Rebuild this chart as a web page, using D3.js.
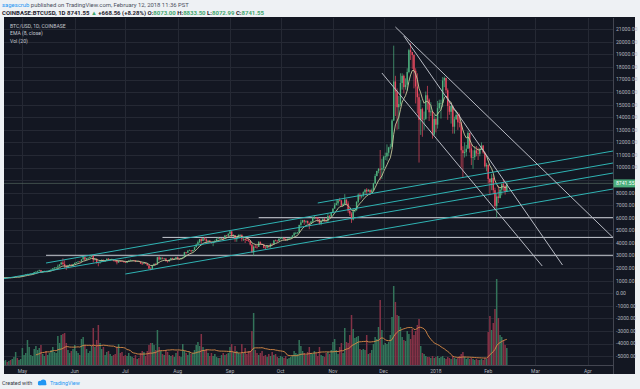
<!DOCTYPE html>
<html>
<head>
<meta charset="utf-8">
<script src="https://cdnjs.cloudflare.com/ajax/libs/d3/7.8.5/d3.min.js"></script>
<style>
  body { margin: 0; background: #eef1f4; }
  svg text { font-family: Roboto, "Liberation Sans", sans-serif; }
</style>
</head>
<body>
<svg id="chart" width="640" height="389"></svg>
<script>
// daily BTC/USD candles off coinbase, starting 20 Apr 2017 (one value per day)
var startDay = "2017-04-20";
var firstOpen = 1215;
var closes = [
  // apr
  1235, 1250, 1245, 1250, 1245, 1265, 1285, 1340, 1320, 1325, 1350,
  // may
  1420, 1455, 1495, 1525, 1530, 1560, 1570, 1690, 1715, 1780, 1840, 1690, 1760, 1780, 1720, 1745, 1820, 1890, 1985, 2045,
  2055, 2140, 2290, 2450, 2330, 2160, 2080, 2210, 2280, 2200, 2330,
  // jun
  2420, 2480, 2530, 2520, 2690, 2880, 2680, 2800, 2820, 2900, 2990, 2650, 2720, 2480, 2450, 2500, 2660, 2530, 2600, 2750,
  2680, 2710, 2720, 2600, 2580, 2450, 2580, 2570, 2550, 2480,
  // jul
  2430, 2520, 2600, 2610, 2620, 2610, 2520, 2560, 2510, 2370, 2350, 2400, 2360, 2220, 1960, 1930, 2230, 2330, 2290, 2870,
  2690, 2830, 2760, 2770, 2580, 2540, 2680, 2810, 2730, 2760, 2870,
  // aug
  2740, 2710, 2810, 2860, 3270, 3230, 3400, 3420, 3350, 3440, 3670, 3880, 4060, 4320, 4160, 4380, 4290, 4150, 4200, 4090,
  4000, 4100, 4150, 4330, 4370, 4350, 4390, 4380, 4600, 4580, 4740,
  // sep
  4920, 4580, 4630, 4300, 4440, 4640, 4650, 4330, 4330, 4240, 4200, 4160, 3880, 3250, 3710, 3700, 3690, 4100, 3910, 3880,
  3620, 3610, 3790, 3660, 3930, 3890, 4210, 4190, 4170, 4340,
  // oct
  4400, 4410, 4320, 4220, 4330, 4370, 4440, 4610, 4780, 4780, 4830, 5440, 5640, 5820, 5700, 5760, 5600, 5580, 5710, 6010,
  6010, 5980, 5900, 5520, 5750, 5900, 5780, 5750, 6150, 6130, 6450,
  // nov
  6740, 7030, 7160, 7400, 7380, 6960, 7100, 7460, 7140, 6570, 6340, 5860, 6520, 6600, 7280, 7850, 7700, 7780, 8040, 8240,
  8100, 8230, 8010, 8200, 8750, 9330, 9730, 9900, 9840, 9950,
  // dec
  10860, 10890, 11180, 11600, 11660, 13750, 16850, 16050, 14800, 15050, 16730, 17300, 16400, 16590, 17600, 19340, 19190, 18950, 17700, 16450,
  15600, 13800, 14650, 13830, 13880, 15750, 15400, 14400, 14470, 12630, 13860,
  // jan
  13410, 14730, 15130, 15140, 16930, 17130, 16150, 14900, 14440, 14900, 13250, 13840, 14190, 13600, 13580, 11380, 11150, 11250, 11500, 12760,
  11530, 10780, 10830, 11370, 11130, 11100, 11440, 11750, 11200, 10100, 10220,
  // feb
  9100, 8830, 9170, 8200, 6940, 7700, 7580, 8240, 8680, 8560, 8072.99, 8741.55
];
var highs = [
  1240, 1255, 1260, 1255, 1255, 1268, 1295, 1345, 1350, 1330, 1355,
  1425, 1470, 1500, 1560, 1570, 1580, 1600, 1700, 1750, 1800, 1880, 1860, 1770, 1800, 1790, 1770, 1840, 1900, 2000, 2070,
  2080, 2290, 2300, 2520, 2780, 2620, 2250, 2260, 2320, 2300, 2340,
  2450, 2490, 2560, 2570, 2720, 2920, 2900, 2820, 2860, 2920, 3020, 3000, 2780, 2800, 2500, 2540, 2690, 2680, 2610, 2770,
  2800, 2730, 2760, 2730, 2640, 2620, 2600, 2630, 2600, 2560,
  2510, 2540, 2620, 2690, 2640, 2640, 2620, 2570, 2580, 2520, 2420, 2430, 2440, 2380, 2230, 2060, 2240, 2400, 2420, 2900,
  2960, 2880, 2850, 2800, 2790, 2620, 2700, 2830, 2830, 2790, 2890,
  2920, 2760, 2830, 2890, 3300, 3290, 3420, 3480, 3430, 3450, 3700, 3950, 4200, 4330, 4400, 4400, 4480, 4370, 4200, 4200,
  4110, 4150, 4250, 4370, 4470, 4380, 4400, 4400, 4640, 4640, 4760,
  4980, 4960, 4700, 4630, 4480, 4690, 4700, 4680, 4380, 4330, 4360, 4350, 4180, 3920, 3810, 3870, 3800, 4140, 4110, 3950,
  3900, 3760, 3820, 3800, 3970, 3990, 4240, 4270, 4230, 4380,
  4470, 4480, 4440, 4380, 4370, 4420, 4470, 4610, 4880, 4890, 4880, 5450, 5850, 5840, 5850, 5800, 5780, 5620, 5740, 6080,
  6200, 6080, 6060, 5910, 5750, 5980, 6000, 5860, 6340, 6220, 6470,
  6760, 7200, 7450, 7480, 7600, 7420, 7210, 7890, 7450, 7320, 6810, 6450, 6770, 6750, 7320, 7950, 8000, 7850, 8110, 8300,
  8370, 8300, 8250, 8330, 8790, 9500, 9750, 9960, 11400, 10700,
  10940, 11190, 11850, 11650, 11900, 13850, 19700, 17300, 16300, 15700, 17500, 17500, 17400, 17100, 17900, 19450, 19890, 19200, 19000, 17900,
  17500, 15900, 15400, 14770, 14460, 16050, 16500, 15500, 15200, 14500, 14200,
  14000, 15300, 15400, 15400, 17200, 17250, 17150, 16300, 15300, 14950, 14950, 14050, 14550, 14400, 14300, 13600, 11700, 12000, 11800, 12900,
  12770, 11900, 11380, 11700, 11720, 11600, 11550, 12000, 11800, 11250, 10380,
  10250, 9150, 9500, 9390, 8400, 7900, 8560, 8360, 8740, 9080, 8570, 8833.50
];
var lows = [
  1205, 1225, 1220, 1230, 1230, 1240, 1260, 1280, 1300, 1300, 1310,
  1345, 1410, 1440, 1470, 1480, 1520, 1540, 1560, 1650, 1700, 1760, 1670, 1640, 1720, 1690, 1690, 1720, 1810, 1880, 1950,
  1980, 2020, 2130, 2290, 2250, 2000, 1850, 2000, 2150, 2150, 2180,
  2310, 2380, 2440, 2480, 2500, 2690, 2600, 2620, 2750, 2790, 2880, 2450, 2600, 2350, 2150, 2350, 2480, 2500, 2500, 2590,
  2620, 2630, 2670, 2540, 2480, 2300, 2420, 2500, 2520, 2450,
  2410, 2400, 2500, 2580, 2570, 2580, 2480, 2490, 2500, 2330, 2260, 2310, 2330, 2200, 1940, 1830, 1930, 2200, 2270, 2280,
  2600, 2680, 2700, 2710, 2510, 2440, 2510, 2670, 2690, 2650, 2720,
  2680, 2660, 2710, 2790, 2860, 3150, 3210, 3380, 3250, 3330, 3420, 3650, 3850, 3980, 3900, 4150, 4200, 4000, 3990, 4050,
  3950, 3750, 4080, 4120, 4310, 4300, 4340, 4230, 4350, 4530, 4570,
  4680, 4460, 4480, 4100, 4100, 4440, 4590, 4130, 4170, 4000, 4160, 4100, 3800, 3220, 2980, 3600, 3550, 3690, 3880, 3840,
  3580, 3520, 3580, 3640, 3650, 3870, 3880, 4140, 4100, 4160,
  4300, 4340, 4200, 4160, 4180, 4300, 4340, 4430, 4560, 4700, 4740, 4810, 5250, 5600, 5450, 5560, 5520, 5100, 5530, 5600,
  5900, 5880, 5670, 5460, 5410, 5700, 5690, 5690, 5660, 6000, 6080,
  6370, 6720, 6990, 6980, 7300, 6930, 6940, 7050, 7000, 6400, 6150, 5600, 5800, 6440, 6580, 7150, 7450, 7550, 7670, 7900,
  7800, 8090, 8000, 8000, 8180, 8700, 9300, 9550, 9000, 9100,
  9800, 10600, 10550, 10900, 11450, 11650, 13700, 14100, 13010, 13050, 14900, 16200, 15900, 16200, 16100, 17500, 18560, 17850, 16300, 15100,
  14300, 10400, 12600, 12450, 13000, 13800, 14600, 13700, 14100, 12300, 12550,
  12800, 13100, 14600, 13900, 14800, 16400, 15900, 13800, 14200, 13500, 12700, 12700, 13800, 13000, 13200, 10000, 9200, 10800, 10900, 11500,
  11200, 10200, 9900, 10600, 10900, 10600, 10900, 11400, 11100, 10000, 9700,
  8750, 7800, 8200, 7900, 6600, 6000, 7180, 7550, 7790, 8150, 7850, 8072.99
];
// volume in thousands of BTC
var volumes = [
  4, 5, 3, 4, 5, 6, 8, 13, 7, 5, 6,
  17, 10, 12, 25, 18, 10, 9, 16, 19, 15, 17, 20, 11, 9, 14, 10, 12, 15, 18, 13, 12, 29, 22, 30, 31, 32, 22, 15, 12, 14, 16,
  20, 14, 12, 10, 26, 28, 20, 16, 12, 14, 19, 37, 18, 25, 40, 22, 16, 18, 10, 13, 14, 11, 9, 10, 11, 18, 21, 12, 13, 9,
  10, 9, 12, 9, 8, 7, 10, 6, 7, 12, 14, 13, 9, 14, 20, 22, 22, 20, 15, 35, 18, 14, 11, 10, 15, 13, 10, 9, 10, 8, 12,
  14, 9, 8, 21, 14, 12, 10, 13, 11, 12, 15, 20, 23, 19, 31, 18, 15, 16, 12, 9, 12, 9, 11, 8, 7, 7, 10, 12, 10, 11, 12,
  18, 21, 13, 19, 14, 12, 11, 21, 12, 17, 11, 14, 14, 34, 52, 15, 12, 10, 12, 14, 9, 10, 8, 11, 9, 13, 10, 11, 8, 7,
  9, 8, 7, 9, 6, 7, 8, 10, 14, 12, 11, 25, 19, 14, 12, 10, 13, 18, 12, 11, 14, 12, 9, 18, 10, 9, 8, 12, 13, 11, 15,
  23, 26, 15, 11, 18, 22, 12, 37, 23, 22, 30, 50, 36, 27, 28, 29, 16, 15, 16, 15, 30, 11, 12, 15, 21, 28, 26, 38, 65, 35,
  20, 22, 21, 23, 30, 48, 79, 63, 50, 49, 38, 28, 25, 24, 34, 31, 26, 36, 30, 34, 40, 46, 19, 12, 11, 9, 8, 8, 7, 9, 7,
  8, 9, 7, 8, 9, 7, 6, 8, 7, 6, 9, 7, 6, 7, 9, 11, 13, 8, 6, 7, 6, 7, 6, 5, 6, 5, 5, 6, 5, 7, 6,
  33, 49, 35, 42, 56, 86, 47, 30, 28, 25, 20, 17
];

// axis stuff
var monthTicks = ["2017-05-01", "2017-06-01", "2017-07-01", "2017-08-01", "2017-09-01", "2017-10-01",
  "2017-11-01", "2017-12-01", "2018-01-01", "2018-02-01", "2018-03-01", "2018-04-01"];
var monthLabels = ["May", "Jun", "Jul", "Aug", "Sep", "Oct", "Nov", "Dec", "2018", "Feb", "Mar", "Apr"];
var priceTicks = [21000, 20000, 19000, 18000, 17000, 16000, 15000, 14000, 13000, 12000, 11000, 10000, 9000, 8000,
  7000, 6000, 5000, 4000, 3000, 2000, 1000, 0, -1000, -2000, -3000, -4000, -5000];

// the drawings on the chart, each one is [date, price] -> [date, price]
var channelLines = [
  [["2017-05-15", 2410], ["2018-04-16", 10365]],
  [["2017-04-19", 1138], ["2018-04-16", 9570]],
  [["2017-07-01", 1535], ["2018-04-16", 8297]],
  [["2017-10-23", 7183], ["2018-04-16", 11320]]
];
var fanLines = [
  [["2017-12-08", 21184], ["2018-04-16", 4431]],
  [["2017-12-13", 20470], ["2018-03-17", 2251]],
  [["2017-11-30", 17525], ["2018-03-05", 2172]]
];
// horizontal levels, [start date, price], they all run to the right edge
var levelLines = [["2017-09-18", 6015], ["2017-07-23", 4447], ["2017-05-15", 3023]];

// sizes of everything
var svgWidth = 640, svgHeight = 389;
var plot = { left: 4, top: 18, right: 613, bottom: 365 };
var upColor = "#4fb27f", downColor = "#e8495f";

var parseDate = d3.timeParse("%Y-%m-%d");
var fmt = d3.formatLocale({ decimal: ".", thousands: "", grouping: [3], currency: ["$", ""], minus: "-" }).format(".2f");

// build the candles, open is yesterdays close
var start = parseDate(startDay);
var candles = closes.map(function(c, i) {
  return {
    date: d3.timeDay.offset(start, i),
    open: i === 0 ? firstOpen : closes[i - 1],
    high: highs[i],
    low: lows[i],
    close: c,
    vol: volumes[i]
  };
});
// last candle opened at 8073.00 on the exchange
candles[candles.length - 1].open = 8073.00;

// EMA 8 on close
var k = 2 / (8 + 1);
var ema = [];
candles.forEach(function(d, i) {
  ema.push({ date: d.date, v: i === 0 ? d.close : d.close * k + ema[i - 1].v * (1 - k) });
});
// 20 day volume average
var volMa = [];
candles.forEach(function(d, i) {
  if (i < 19) return;
  volMa.push({ date: d.date, v: d3.mean(candles.slice(i - 19, i + 1), c => c.vol) });
});

// scales
var x = d3.scaleTime()
  .domain([parseDate("2017-05-01"), parseDate("2018-04-01")])
  .range([22.4, 587.8]);
var y = d3.scaleLinear().domain([0, 21000]).range([293.3, 29.3]);
var yVol = d3.scaleLinear().domain([0, d3.max(volumes)]).range([plot.bottom, 279]);

var svg = d3.select("#chart");

// header texts above the chart
var head1 = svg.append("text").attr("x", 2).attr("y", 7).attr("font-size", 5.9).attr("fill", "#4a4f5c");
head1.append("tspan").attr("fill", "#2196f3").text("sagescrub");
head1.append("tspan").text(" published on TradingView.com, February 12, 2018 11:36 PST");

var last = candles[candles.length - 1];
var prev = candles[candles.length - 2];
var green = "#3fa66e";
var head2 = svg.append("text").attr("x", 2).attr("y", 14.8).attr("font-size", 6)
  .attr("font-weight", "bold").attr("fill", "#1e222d");
head2.append("tspan").text("COINBASE:BTCUSD, 1D " + fmt(last.close) + " ");
head2.append("tspan").attr("fill", green).text("\u25B2");
head2.append("tspan").text(" +" + fmt(last.close - prev.close) + " (+" + ((last.close - prev.close) / prev.close * 100).toFixed(2) + "%) O:");
head2.append("tspan").attr("fill", green).text(fmt(last.open));
head2.append("tspan").text(" H:");
head2.append("tspan").attr("fill", green).text(fmt(last.high));
head2.append("tspan").text(" L:");
head2.append("tspan").attr("fill", green).text(fmt(last.low));
head2.append("tspan").text(" C:");
head2.append("tspan").attr("fill", green).text(fmt(last.close));

// dark panel
svg.append("rect").attr("x", 4).attr("y", 17).attr("width", 631).attr("height", 357).attr("fill", "#131722");

svg.append("defs").append("clipPath").attr("id", "clip")
  .append("rect").attr("x", plot.left).attr("y", plot.top)
  .attr("width", plot.right - plot.left).attr("height", plot.bottom - plot.top);

// grid lines
var grid = svg.append("g").attr("stroke", "#252934").attr("stroke-width", 1);
grid.selectAll(".hg").data(priceTicks).enter().append("line")
  .attr("x1", plot.left).attr("x2", plot.right)
  .attr("y1", d => Math.round(y(d)) + 0.5).attr("y2", d => Math.round(y(d)) + 0.5);
grid.selectAll(".vg").data(monthTicks).enter().append("line")
  .attr("y1", plot.top).attr("y2", plot.bottom)
  .attr("x1", d => Math.round(x(parseDate(d))) + 0.5).attr("x2", d => Math.round(x(parseDate(d))) + 0.5);

var body = svg.append("g").attr("clip-path", "url(#clip)");

// volume bars at the bottom
body.append("g").selectAll("rect").data(candles).enter().append("rect")
  .attr("x", d => x(d.date) - 0.75)
  .attr("width", 1.5)
  .attr("y", d => yVol(d.vol))
  .attr("height", d => plot.bottom - yVol(d.vol))
  .attr("fill", d => d.close >= d.open ? "#33745a" : "#843246");

// volume MA line
body.append("path").datum(volMa)
  .attr("fill", "none").attr("stroke", "#dc8c47").attr("stroke-width", 0.9)
  .attr("d", d3.line().x(d => x(d.date)).y(d => yVol(d.v)));

// horizontal levels
body.append("g").selectAll("line").data(levelLines).enter().append("line")
  .attr("x1", d => x(parseDate(d[0]))).attr("x2", plot.right)
  .attr("y1", d => y(d[1])).attr("y2", d => y(d[1]))
  .attr("stroke", "#c9ccd4").attr("stroke-width", 1);

// last price line
body.append("line")
  .attr("x1", plot.left).attr("x2", plot.right)
  .attr("y1", y(last.close)).attr("y2", y(last.close))
  .attr("stroke", "#4a5a55").attr("stroke-width", 0.8);

// candles, wick first then body
var cg = body.append("g");
cg.selectAll("line").data(candles).enter().append("line")
  .attr("x1", d => x(d.date)).attr("x2", d => x(d.date))
  .attr("y1", d => y(Math.max(d.high, d.open, d.close)))
  .attr("y2", d => y(Math.min(d.low, d.open, d.close)))
  .attr("stroke", d => d.close >= d.open ? upColor : downColor)
  .attr("stroke-width", 0.7);
cg.selectAll("rect").data(candles).enter().append("rect")
  .attr("x", d => x(d.date) - 0.7)
  .attr("width", 1.4)
  .attr("y", d => y(Math.max(d.open, d.close)))
  .attr("height", d => Math.max(0.7, Math.abs(y(d.open) - y(d.close))))
  .attr("fill", d => d.close >= d.open ? upColor : downColor);

// EMA line
body.append("path").datum(ema)
  .attr("fill", "none").attr("stroke", "#c6c99c").attr("stroke-width", 0.9)
  .attr("d", d3.line().x(d => x(d.date)).y(d => y(d.v)));

// trendlines
function drawSegs(data, color) {
  body.append("g").selectAll("line").data(data).enter().append("line")
    .attr("x1", d => x(parseDate(d[0][0]))).attr("y1", d => y(d[0][1]))
    .attr("x2", d => x(parseDate(d[1][0]))).attr("y2", d => y(d[1][1]))
    .attr("stroke", color).attr("stroke-width", 1);
}
drawSegs(channelLines, "#2fb3b3");
drawSegs(fanLines, "#b8bbc4");

// borders of the plot
svg.append("line").attr("x1", plot.right + 0.5).attr("x2", plot.right + 0.5)
  .attr("y1", plot.top).attr("y2", 374).attr("stroke", "#434651");
svg.append("line").attr("x1", plot.left).attr("x2", plot.right)
  .attr("y1", plot.bottom + 0.5).attr("y2", plot.bottom + 0.5).attr("stroke", "#434651");

// price axis on the right
var lastY = y(last.close);
svg.append("g").selectAll("text").data(priceTicks.filter(d => Math.abs(y(d) - lastY) > 5)).enter().append("text")
  .attr("x", 616).attr("y", d => y(d) + 1.9)
  .attr("font-size", 5.1).attr("fill", "#b2b5be")
  .text(d => fmt(d));
svg.append("rect").attr("x", 613.5).attr("y", lastY - 4).attr("width", 21.5).attr("height", 8).attr("fill", "#4caf7d");
svg.append("text").attr("x", 616).attr("y", lastY + 1.9).attr("font-size", 5.1).attr("fill", "#ffffff")
  .text(fmt(last.close));

// month labels along the bottom
svg.append("g").selectAll("text").data(monthTicks).enter().append("text")
  .attr("x", d => x(parseDate(d))).attr("y", 372.5)
  .attr("text-anchor", "middle").attr("font-size", 5).attr("fill", "#b2b5be")
  .text((d, i) => monthLabels[i]);

// legend in top left of the chart
var legendText = ["BTC/USD, 1D, COINBASE", "EMA (8, close)", "Vol (20)"];
svg.append("g").selectAll("text").data(legendText).enter().append("text")
  .attr("x", 10).attr("y", (d, i) => 27.5 + i * 7.5)
  .attr("font-size", 5.1).attr("fill", "#c3c6ce")
  .text(d => d);

// created with tradingview footer
svg.append("text").attr("x", 2).attr("y", 385).attr("font-size", 5.4).attr("fill", "#333844").text("Created with");
var logo = svg.append("g").attr("fill", "#2196f3");
logo.append("circle").attr("cx", 40).attr("cy", 383).attr("r", 2.2);
logo.append("circle").attr("cx", 43.3).attr("cy", 382.2).attr("r", 2.8);
logo.append("rect").attr("x", 38).attr("y", 383).attr("width", 8.5).attr("height", 2.2).attr("rx", 1);
svg.append("text").attr("x", 50).attr("y", 385).attr("font-size", 5.4).attr("fill", "#2196f3").text("TradingView");
</script>
</body>
</html>
